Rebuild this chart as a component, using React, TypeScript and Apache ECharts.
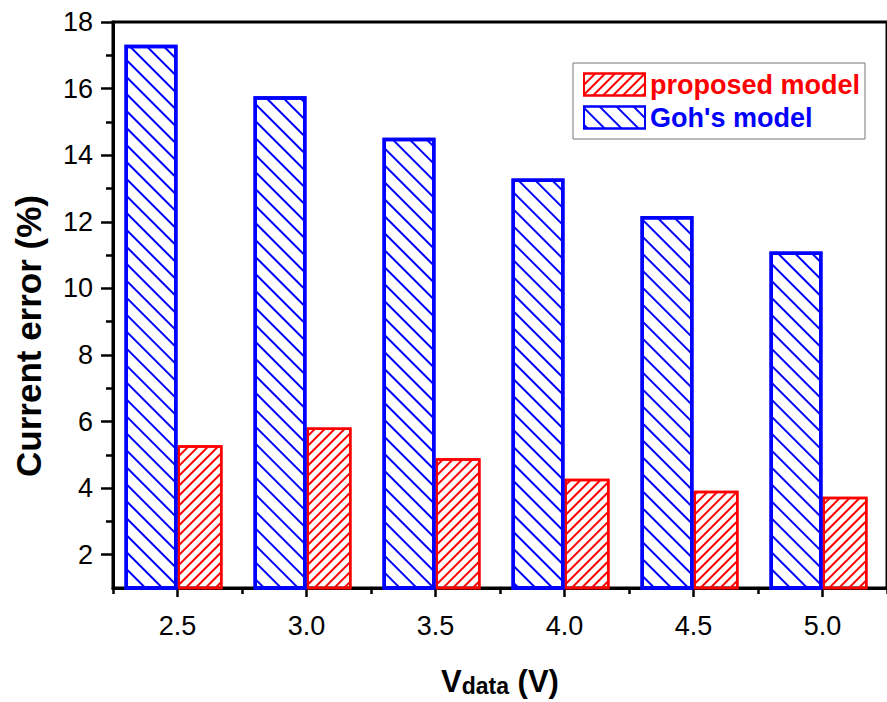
import React, { useEffect, useRef } from 'react';
import * as echarts from 'echarts';

const categories = ['2.5', '3.0', '3.5', '4.0', '4.5', '5.0'];
const gohValues = [17.32, 15.77, 14.52, 13.3, 12.17, 11.11];
const proposedValues = [5.29, 5.82, 4.9, 4.28, 3.92, 3.74];
const yLabelValues = [2, 4, 6, 8, 10, 12, 14, 16, 18];
const yMinorValues = [3, 5, 7, 9, 11, 13, 15, 17];
const padValues = categories.map(() => '-');
const yTitle = 'Current error (%)';

const FONT = '"Liberation Sans", Arial, Helvetica, sans-serif';

export default function App() {
  const ref = useRef<HTMLDivElement>(null);
  useEffect(() => {
    if (!ref.current) return;
    const chart = echarts.init(ref.current, null, { renderer: 'svg' });
    const blueDecal = {
      symbol: 'rect',
      symbolSize: 1,
      color: '#0000ff',
      dashArrayX: [1, 0],
      dashArrayY: [1.4, 10],
      rotation: Math.PI / 4,
    };
    const redDecal = {
      symbol: 'rect',
      symbolSize: 1,
      color: '#ff0000',
      dashArrayX: [1, 0],
      dashArrayY: [2, 4.4],
      rotation: -Math.PI / 4,
    };
    chart.setOption({
      animation: false,
      backgroundColor: '#ffffff',
      textStyle: { fontFamily: FONT },
      grid: {
        left: 113,
        top: 22,
        right: -5,
        bottom: 109,
        show: true,
        borderColor: '#000',
        borderWidth: 3,
        backgroundColor: 'transparent',
      },
      graphic: [
        {
          type: 'text',
          x: 28,
          y: 336,
          rotation: Math.PI / 2,
          style: {
            text: yTitle,
            fontSize: 35,
            fontWeight: 'bold',
            fontFamily: FONT,
            fill: '#000',
            align: 'center',
            verticalAlign: 'middle',
          },
        },
      ],
      legend: {
        orient: 'vertical',
        left: 573,
        top: 63,
        padding: [8, 5, 8, 10],
        itemGap: 6,
        itemWidth: 61,
        itemHeight: 22,
        itemTextGap: 8,
        borderColor: '#777',
        borderWidth: 1,
        backgroundColor: '#fff',
        icon: 'rect',
        data: [
          { name: 'proposed model', textStyle: { color: '#ff0000' } },
          { name: "Goh's model", textStyle: { color: '#0000ff' } },
        ],
        textStyle: { fontSize: 27, fontWeight: 'bold', fontFamily: FONT },
      },
      xAxis: [
        {
          type: 'category',
          data: categories,
          position: 'bottom',
          boundaryGap: true,
          axisLine: { show: true, onZero: false, lineStyle: { color: '#000', width: 3 } },
          axisTick: { show: true, length: 6, lineStyle: { color: '#000', width: 2.5 } },
          axisLabel: { show: false },
          splitLine: { show: false },
          name: '{v|V}{s|data}{v| (V)}',
          nameLocation: 'middle',
          nameGap: 78,
          nameTextStyle: {
            rich: {
              v: { fontSize: 31, fontWeight: 'bold', color: '#000', fontFamily: FONT },
              s: { fontSize: 23, fontWeight: 'bold', color: '#000', fontFamily: FONT, padding: [8, 0, 0, 0] },
            },
          },
        },
        {
          type: 'category',
          data: categories,
          position: 'bottom',
          offset: 0,
          boundaryGap: true,
          axisLine: { show: false },
          axisTick: { show: true, alignWithLabel: true, length: 9, lineStyle: { color: '#000', width: 2.5 } },
          axisLabel: { show: true, fontSize: 27, color: '#000', margin: 24, fontFamily: FONT },
          splitLine: { show: false },
        },
      ],
      yAxis: [
        {
          type: 'value',
          min: 1,
          max: 18,
          position: 'left',
          axisLine: { show: true, onZero: false, lineStyle: { color: '#000', width: 3 } },
          axisTick: { show: true, length: 12, customValues: yLabelValues, lineStyle: { color: '#000', width: 2.5 } },
          axisLabel: { show: true, fontSize: 27, color: '#000', margin: 20, customValues: yLabelValues, fontFamily: FONT },
          splitLine: { show: false },
        },
        {
          type: 'value',
          min: 1,
          max: 18,
          position: 'left',
          offset: 0,
          axisLine: { show: false },
          axisTick: { show: true, length: 7, customValues: yMinorValues, lineStyle: { color: '#000', width: 2.5 } },
          axisLabel: { show: false },
          splitLine: { show: false },
        },
      ],
      series: [
        {
          name: "Goh's model",
          type: 'bar',
          xAxisIndex: 0,
          yAxisIndex: 0,
          data: gohValues,
          barWidth: 53,
          barGap: '0%',
          z: 3,
          itemStyle: {
            color: 'rgba(255,255,255,0)',
            borderColor: '#0000ff',
            borderWidth: 3.5,
            decal: blueDecal,
          },
        },
        {
          name: 'proposed model',
          type: 'bar',
          xAxisIndex: 0,
          yAxisIndex: 0,
          data: proposedValues,
          barWidth: 45,
          barGap: '0%',
          z: 2,
          itemStyle: {
            color: 'rgba(255,255,255,0)',
            borderColor: '#ff0000',
            borderWidth: 2.5,
            decal: redDecal,
          },
        },
        {
          name: '_pad',
          type: 'bar',
          xAxisIndex: 0,
          yAxisIndex: 0,
          data: padValues,
          barWidth: 8,
          barGap: '0%',
          silent: true,
          itemStyle: { color: 'rgba(0,0,0,0)' },
        },
      ],
    });
    return () => chart.dispose();
  }, []);
  return (
    <div
      ref={ref}
      style={{ position: 'fixed', left: 0, top: 0, width: 887, height: 702 }}
    />
  );
}
